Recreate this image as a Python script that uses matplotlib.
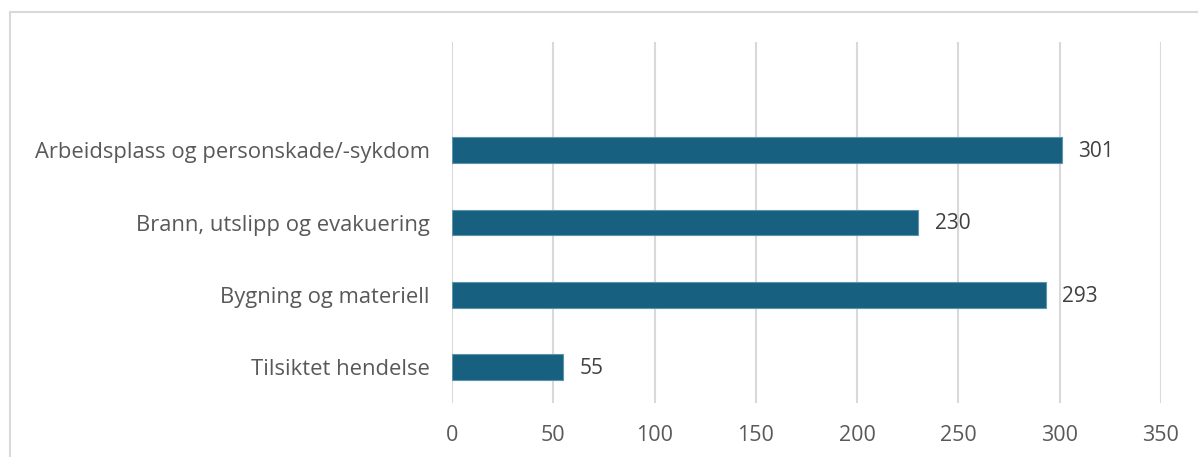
import matplotlib.pyplot as plt
from matplotlib.lines import Line2D

# data (bottom to top, as drawn)
categories = ["Tilsiktet hendelse", "Bygning og materiell",
              "Brann, utslipp og evakuering", "Arbeidsplass og personskade/-sykdom"]
values = [55, 293, 230, 301]
xticks = [0, 50, 100, 150, 200, 250, 300, 350]

W, H = 1198, 457
plt.rcParams["font.family"] = ["Open Sans", "DejaVu Sans"]
text_color = "#595959"
bar_color = "#17607F"

fig = plt.figure(figsize=(W / 100, H / 100), dpi=100)
ax = fig.add_axes([452 / W, 1 - 403 / H, (1161 - 452) / W, (403 - 42) / H])

ypos = list(range(len(categories)))
ax.barh(ypos, values, height=0.36, color=bar_color, edgecolor="#5d93ad",
        linewidth=0.8, zorder=3)

for y, v in zip(ypos, values):
    ax.annotate(str(v), (v, y), xytext=(12, -1), textcoords="offset points",
                va="center", ha="left", fontsize=15, color="#404040")

ax.set_xlim(0, 350)
ax.set_ylim(-0.5, 4.5)
ax.set_xticks(xticks)
ax.set_xticklabels([str(t) for t in xticks])
ax.set_yticks(ypos)
ax.set_yticklabels(categories)
ax.tick_params(axis="x", length=0, pad=16, labelsize=15.5, labelcolor=text_color)
ax.tick_params(axis="y", length=0, pad=16, labelsize=15.8, labelcolor=text_color)
ax.xaxis.grid(True, color="#d9d9d9", linewidth=1.5, zorder=0)
for s in ax.spines.values():
    s.set_visible(False)

# outer frame of the chart area
frame_c = "#d9d9d9"
x0 = 10 / W
y0 = 1 - 12 / H
fig.add_artist(Line2D([x0, 1.0], [y0, y0], color=frame_c, linewidth=1.5,
                      transform=fig.transFigure))
fig.add_artist(Line2D([x0, x0], [0.0, y0], color=frame_c, linewidth=1.5,
                      transform=fig.transFigure))

fig.savefig("out.png", dpi=100)
